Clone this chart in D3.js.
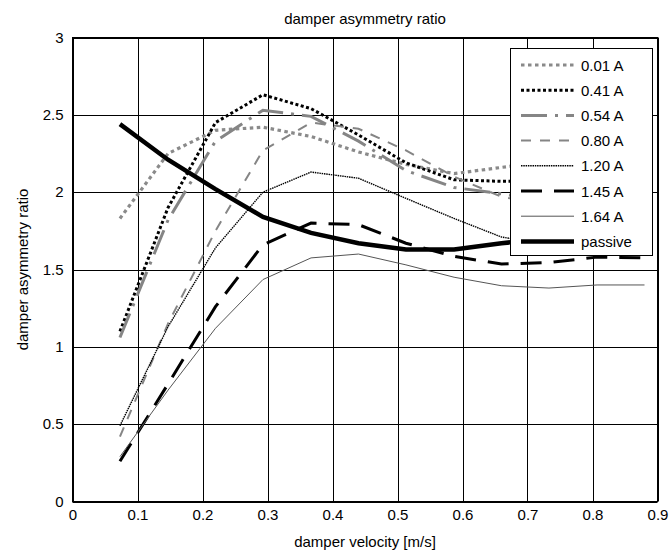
<!DOCTYPE html>
<html>
<head>
<meta charset="utf-8">
<script src="https://cdn.jsdelivr.net/npm/d3@7"></script>
<style>
    body { margin: 0; background: white; }
    svg text { font-family: "Liberation Sans", Arial, sans-serif; fill: black; }
</style>
</head>
<body>
<svg></svg>
<script>
// Velocity points (m/s)
const velocity = [0.073, 0.147, 0.22, 0.293, 0.367, 0.44, 0.513, 0.587, 0.66, 0.733, 0.807, 0.88]

const labels = ['0.01 A', '0.41 A', '0.54 A', '0.80 A', '1.20 A', '1.45 A', '1.64 A', 'passive']

const ratio001 = [1.83, 2.25, 2.40, 2.42, 2.36, 2.26, 2.18, 2.12, 2.16, 2.20, 2.24, 2.27]
const ratio041 = [1.10, 1.90, 2.45, 2.63, 2.54, 2.37, 2.19, 2.08, 2.07, 2.07, 2.07, 2.07]
const ratio054 = [1.06, 1.82, 2.33, 2.53, 2.49, 2.33, 2.14, 2.03, 1.99, 1.94, 1.90, 1.88]
const ratio080 = [0.42, 1.15, 1.75, 2.27, 2.45, 2.41, 2.27, 2.10, 1.97, 1.92, 1.89, 1.87]
const ratio120 = [0.49, 1.13, 1.64, 2.00, 2.13, 2.09, 1.96, 1.83, 1.71, 1.66, 1.63, 1.61]
const ratio145 = [0.26, 0.76, 1.26, 1.66, 1.80, 1.79, 1.67, 1.585, 1.535, 1.545, 1.58, 1.575]
const ratio164 = [0.29, 0.72, 1.12, 1.435, 1.575, 1.60, 1.53, 1.45, 1.395, 1.38, 1.40, 1.40]
const ratioPassive = [2.44, 2.21, 2.02, 1.84, 1.737, 1.67, 1.63, 1.63, 1.67, 1.70, 1.72, 1.74]

const xTicks = [0, 0.1, 0.2, 0.3, 0.4, 0.5, 0.6, 0.7, 0.8, 0.9]
const yTicks = [0, 0.5, 1, 1.5, 2, 2.5, 3]

const allSeries = [ratio001, ratio041, ratio054, ratio080, ratio120, ratio145, ratio164, ratioPassive]

// line styles, one per series
const styles = [
    { color: '#8a8a8a', width: 3.2, dash: '3.5,3.5' },
    { color: '#000', width: 3, dash: '3,2.5' },
    { color: '#858585', width: 3, dash: '26,8,3,8' },
    { color: '#858585', width: 2, dash: '10,9' },
    { color: '#000', width: 1.4, dash: '1.5,0.8' },
    { color: '#000', width: 3, dash: '21,12' },
    { color: '#555', width: 1, dash: null },
    { color: '#000', width: 4.5, dash: null }
]

// Canvas setup
let svg = d3.select('svg')
let width = 672
let height = 552
svg.attr('width', width).attr('height', height)

let pLeft = 72.5, pRight = 657.5, pTop = 37.5, pBottom = 501.5
let fontSize = '15px'

let xScale = d3.scaleLinear().domain([0, 0.9]).range([pLeft, pRight])
let yScale = d3.scaleLinear().domain([0, 3]).range([pBottom, pTop])

// grid
svg.append('g')
    .selectAll('line')
    .data(xTicks)
    .enter()
    .append('line')
    .attr('x1', d => Math.round(xScale(d)) + 0.5)
    .attr('x2', d => Math.round(xScale(d)) + 0.5)
    .attr('y1', pTop)
    .attr('y2', pBottom)
    .attr('stroke', '#000')
    .attr('stroke-width', 1)

svg.append('g')
    .selectAll('line')
    .data(yTicks)
    .enter()
    .append('line')
    .attr('y1', d => Math.round(yScale(d)) + 0.5)
    .attr('y2', d => Math.round(yScale(d)) + 0.5)
    .attr('x1', pLeft)
    .attr('x2', pRight)
    .attr('stroke', '#000')
    .attr('stroke-width', 1)

// Axes
let xAxis = d3.axisBottom(xScale)
    .tickValues(xTicks)
    .tickSize(0)
    .tickPadding(8)
    .tickFormat(d3.format('~g'))

let yAxis = d3.axisLeft(yScale)
    .tickValues(yTicks)
    .tickSize(0)
    .tickPadding(9)
    .tickFormat(d3.format('~g'))

let gx = svg.append('g')
    .attr('transform', 'translate(0,' + pBottom + ')')
    .call(xAxis)
gx.select('.domain').remove()
gx.selectAll('text').style('font-size', fontSize).attr('fill', '#000')

let gy = svg.append('g')
    .attr('transform', 'translate(' + pLeft + ',0)')
    .call(yAxis)
gy.select('.domain').remove()
gy.selectAll('text').style('font-size', fontSize).attr('fill', '#000')

// Curves
let line = d3.line()
    .x((d, i) => xScale(velocity[i]))
    .y(d => yScale(d))

svg.append('g')
    .selectAll('path')
    .data(allSeries)
    .enter()
    .append('path')
    .attr('d', d => line(d))
    .attr('fill', 'none')
    .attr('stroke', (d, i) => styles[i].color)
    .attr('stroke-width', (d, i) => styles[i].width)
    .attr('stroke-dasharray', (d, i) => styles[i].dash)
    .attr('stroke-linejoin', 'miter')

// frame
svg.append('rect')
    .attr('x', pLeft)
    .attr('y', pTop)
    .attr('width', pRight - pLeft)
    .attr('height', pBottom - pTop)
    .attr('fill', 'none')
    .attr('stroke', '#000')
    .attr('stroke-width', 1)

// Titles
svg.append('text')
    .attr('x', (pLeft + pRight) / 2)
    .attr('y', 24)
    .attr('text-anchor', 'middle')
    .style('font-size', fontSize)
    .text('damper asymmetry ratio')

svg.append('text')
    .attr('x', (pLeft + pRight) / 2)
    .attr('y', 547)
    .attr('text-anchor', 'middle')
    .style('font-size', fontSize)
    .text('damper velocity [m/s]')

svg.append('text')
    .attr('transform', 'translate(28,' + ((pTop + pBottom) / 2) + ') rotate(-90)')
    .attr('text-anchor', 'middle')
    .style('font-size', fontSize)
    .text('damper asymmetry ratio')

// Legend
let legend = svg.append('g')
legend.append('rect')
    .attr('x', 510.5)
    .attr('y', 48.5)
    .attr('width', 142)
    .attr('height', 207)
    .attr('fill', 'white')
    .attr('stroke', '#000')
    .attr('stroke-width', 1)

let rows = legend.selectAll('g.row')
    .data(labels)
    .enter()
    .append('g')
    .attr('class', 'row')
    .attr('transform', (d, i) => 'translate(0,' + (65 + i * 25.2) + ')')

rows.append('line')
    .attr('x1', 521)
    .attr('x2', 574)
    .attr('y1', 0)
    .attr('y2', 0)
    .attr('stroke', (d, i) => styles[i].color)
    .attr('stroke-width', (d, i) => styles[i].width)
    .attr('stroke-dasharray', (d, i) => styles[i].dash)

rows.append('text')
    .attr('x', 581)
    .attr('y', 5.5)
    .style('font-size', fontSize)
    .text(d => d)
</script>
</body>
</html>
